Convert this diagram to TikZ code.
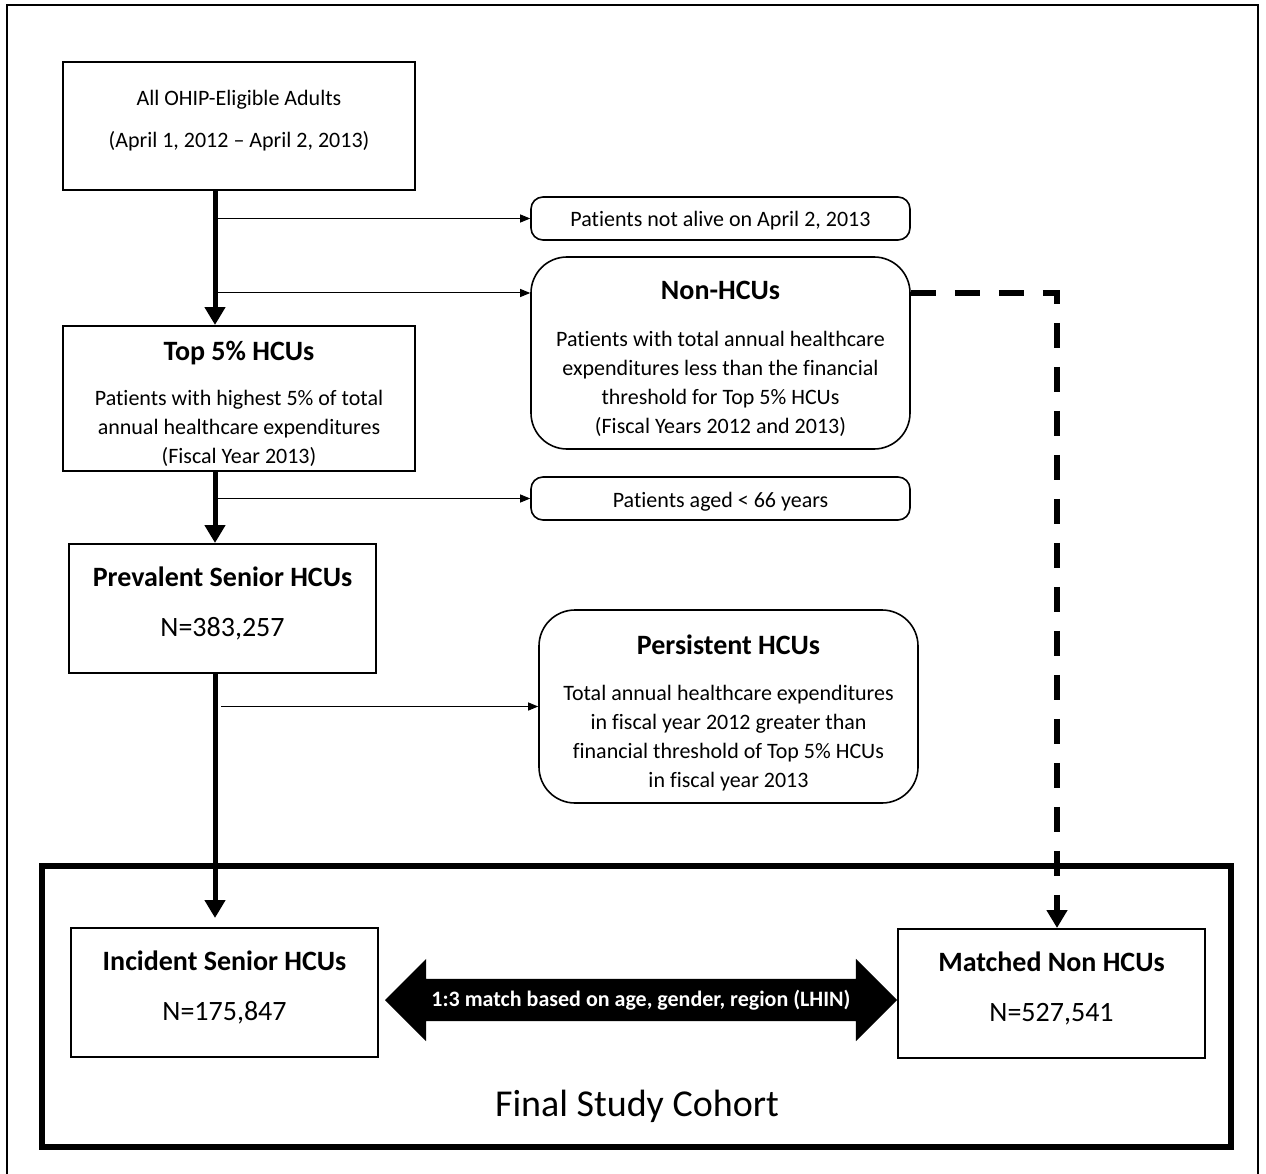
\documentclass[tikz,border=0pt]{standalone}
\usepackage{fontspec}
\setmainfont{Carlito}[Ligatures=NoCommon]
\usetikzlibrary{arrows.meta,calc,shapes.arrows}

\tikzset{
  sqbox/.style={draw, line width=2pt, inner sep=0pt},
  rndbox/.style={draw, line width=1.6pt, rounded corners=#1, inner sep=0pt},
  rndbox/.default=12pt,
  boxtext/.style={align=center, inner sep=0pt},
  mainflow/.style={line width=5pt, -{Triangle[length=18pt,width=20pt]}},
  sideflow/.style={line width=1pt, -{Triangle[length=10pt,width=8pt]}},
  dashflow/.style={line width=6pt, dash pattern=on 25pt off 19pt, -{Triangle[length=18pt,width=20pt]}},
  matcharrow/.style={double arrow, fill=black, text=white, inner ysep=11pt, inner xsep=0pt,
    double arrow head extend=20pt, minimum height=512pt,
    font=\fontsize{22}{24}\selectfont\bfseries},
}
\newcommand{\boxhead}[1]{{\fontsize{28}{29}\selectfont\bfseries #1}}
\newcommand{\boxcount}[1]{{\fontsize{28}{30}\selectfont #1}}

\begin{document}
\begin{tikzpicture}[x=1pt, y=-1pt, font=\fontsize{22}{29}\selectfont]
			%%%%% START %%%%%
			
			\clip (0,0) rectangle (1266,1174);
			\draw[line width=2pt] (7,5) rectangle (1258,1200);
			
			\node[sqbox, minimum width=352pt, minimum height=128pt] (ohip) at (239,126) {};
			\node[boxtext] (ohiptxt) at ($(ohip)+(0,-5)$)
			  {All OHIP-Eligible Adults\\[13pt](April 1, 2012 -- April 2, 2013)};
			\node[sqbox, minimum width=352pt, minimum height=145pt] (top5) at (239,398.5) {};
			\node[boxtext] (top5txt) at ($(top5)+(0,5)$)
			  {\boxhead{Top 5\% HCUs}\\[16pt]Patients with highest 5\% of total\\annual healthcare expenditures\\(Fiscal Year 2013)};
			\node[sqbox, minimum width=307pt, minimum height=129pt] (prev) at (222.5,608.5) {};
			\node[boxtext] (prevtxt) at ($(prev)+(0,-5)$)
			  {\boxhead{Prevalent Senior HCUs}\\[21pt]\boxcount{N=383,257}};
			
			\node[rndbox, minimum width=379pt, minimum height=43pt] (dead) at (720.5,218.5) {};
			\node[boxtext] (deadtxt) at ($(dead)+(0,2)$) {Patients not alive on April 2, 2013};
			\node[rndbox=36pt, minimum width=379pt, minimum height=192pt] (nonhcu) at (720.5,353) {};
			\node[boxtext] (nonhcutxt) at ($(nonhcu)+(0,6)$)
			  {\boxhead{Non-HCUs}\\[18pt]Patients with total annual healthcare\\expenditures less than the financial\\threshold for Top 5\% HCUs\\(Fiscal Years 2012 and 2013)};
			\node[rndbox, minimum width=379pt, minimum height=43pt] (aged) at (720.5,498.5) {};
			\node[boxtext] (agedtxt) at ($(aged)+(0,3)$) {Patients aged < 66 years};
			\node[rndbox=36pt, minimum width=379pt, minimum height=193pt] (pers) at (728.5,706.5) {};
			\node[boxtext] (perstxt) at ($(pers)+(0,6)$)
			  {\boxhead{Persistent HCUs}\\[17pt]Total annual healthcare expenditures\\in fiscal year 2012 greater than\\financial threshold of Top 5\% HCUs\\in fiscal year 2013};
			
			% final cohort
			\node[draw, line width=6pt, minimum width=1189pt, minimum height=281pt] (cohort) at (636.5,1006.5) {};
			\node[font=\fontsize{38}{40}\selectfont] (cohortlbl) at (637,1106) {Final Study Cohort};
			\node[sqbox, minimum width=307pt, minimum height=129pt] (inc) at (224.5,992.5) {};
			\node[boxtext] (inctxt) at ($(inc)+(0,-5)$)
			  {\boxhead{Incident Senior HCUs}\\[21pt]\boxcount{N=175,847}};
			\node[sqbox, minimum width=307pt, minimum height=129pt] (mat) at (1051.5,993.5) {};
			\node[boxtext] (mattxt) at ($(mat)+(0,-5)$)
			  {\boxhead{Matched Non HCUs}\\[21pt]\boxcount{N=527,541}};
			\node[matcharrow] (link) at (641,1000) {1:3 match based on age, gender, region (LHIN)};
			
			% flow
			\coordinate (spine) at (215,0);
			\coordinate (dcorner) at (1057,293);
			\draw[mainflow] (spine |- ohip.south) -- (spine |- top5.north);
			\draw[mainflow] (spine |- top5.south) -- (spine |- prev.north);
			\draw[mainflow, shorten >=9pt] (spine |- prev.south) -- (spine |- inc.north);
			
			\draw[sideflow] (spine |- dead.west) -- (dead.west);
			\draw[sideflow] (spine |- dcorner) -- (nonhcu.west |- dcorner);
			\draw[sideflow] (spine |- aged.west) -- (aged.west);
			\draw[sideflow] ($(spine |- pers.west)+(6,0)$) -- (pers.west);
			
			\draw[dashflow] (nonhcu.east |- dcorner) -- (dcorner) -- (dcorner |- mat.north);
			
			%%%%% END %%%%%
\end{tikzpicture}
\end{document}
